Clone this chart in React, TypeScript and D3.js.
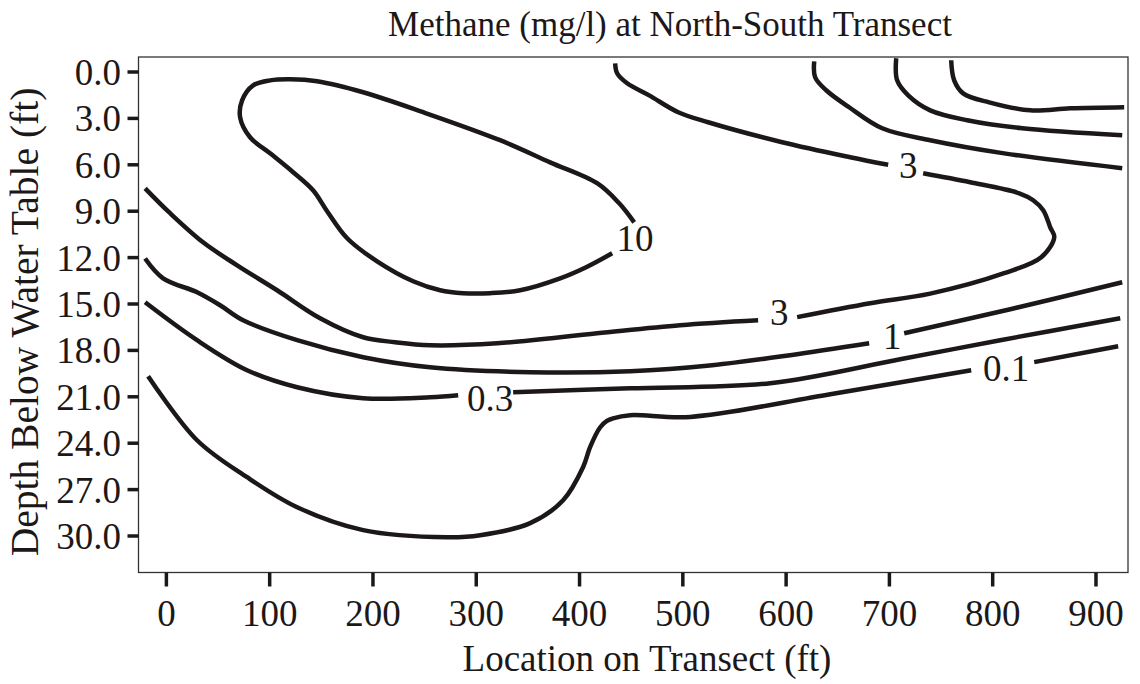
import React from "react";
import * as d3 from "d3";

type Pt = [number, number];

const xTicks = [0, 100, 200, 300, 400, 500, 600, 700, 800, 900];
const yTicks = [0, 3, 6, 9, 12, 15, 18, 21, 24, 27, 30];

const chartTitle = "Methane (mg/l) at North-South Transect";
const xTitle = "Location on Transect (ft)";
const yTitle = "Depth Below Water Table (ft)";

// contour lines: [location ft, depth ft]; each contour is a list of segments (gaps hold labels)
const contour10: Pt[][] = [[
  [431.6, 11.72], [406.4, 12.62], [381.2, 13.34], [342.5, 14.11], [313.4, 14.3], [287.3, 14.3],
  [265.0, 14.11], [238.9, 13.53], [204.0, 12.24], [175.0, 10.75], [155.6, 9.0], [142.0, 7.65],
  [122.7, 6.48], [100.4, 5.26], [81.0, 4.22], [71.4, 2.93], [73.3, 1.83], [84.0, 0.86],
  [100.4, 0.54], [119.8, 0.47], [145.9, 0.6], [190.5, 1.31], [248.6, 2.6], [323.1, 4.41],
  [371.5, 5.84], [417.0, 7.19], [438.4, 8.49], [452.9, 9.72],
]];

const contour3: Pt[][] = [
  [[-20.6, 7.52], [3.6, 9.13], [35.5, 11.01], [68.5, 12.5], [107.2, 14.11], [148.8, 15.92],
   [190.5, 17.15], [221.4, 17.47], [255.3, 17.67], [320.2, 17.54], [417.0, 16.89],
   [497.4, 16.37], [572.9, 16.05]],
  [[610.7, 15.85], [681.4, 14.95], [739.5, 14.33], [811.1, 13.01], [847.0, 11.98], [859.6, 10.68],
   [855.7, 10.04], [848.9, 8.94], [839.2, 8.29], [825.7, 7.84], [778.2, 7.13], [732.7, 6.55]],
  [[698.8, 6.0], [662.0, 5.51], [596.2, 4.54], [524.5, 3.25], [495.5, 2.6], [467.4, 1.51],
   [446.1, 0.73], [436.4, 0.08], [434.5, -0.56]],
];

const contour1: Pt[][] = [
  [[-20.6, 12.06], [-3.2, 13.34], [29.7, 14.24], [52.0, 15.08], [74.3, 16.05], [126.6, 17.34],
   [190.5, 18.44], [255.3, 19.09], [352.2, 19.41], [449.0, 19.35], [528.4, 18.96], [603.9, 18.31],
   [680.4, 17.54]],
  [[714.3, 16.89], [817.0, 15.34], [925.4, 13.59]],
];

const contour03: Pt[][] = [
  [[-20.6, 14.89], [29.7, 17.34], [78.1, 19.28], [126.6, 20.38], [190.5, 21.09], [255.3, 21.03],
   [282.5, 20.9]],
  [[335.7, 20.7], [449.0, 20.45], [584.6, 20.12], [710.4, 18.57], [807.3, 17.34], [923.5, 15.92]],
];

const contour01: Pt[][] = [
  [[-17.7, 19.67], [29.7, 23.81], [78.1, 26.2], [126.6, 28.14], [190.5, 29.62], [271.8, 30.08],
   [303.8, 29.95], [352.2, 29.17], [384.1, 27.69], [403.5, 25.54], [410.3, 24.24], [420.0, 22.97],
   [426.5, 22.56], [432.5, 22.39], [449.0, 22.19], [507.1, 22.3], [642.7, 20.83], [779.2, 19.28]],
  [[840.2, 18.76], [921.5, 17.73]],
];

const contourB: Pt[][] = [[
  [627.2, -0.69], [628.1, 0.34], [638.8, 1.18], [661.0, 2.28], [693.0, 3.64], [739.5, 4.41],
  [811.1, 5.26], [925.4, 6.22],
]];
const contourC: Pt[][] = [[
  [706.6, -0.89], [707.5, 0.54], [718.2, 1.51], [739.5, 2.48], [775.3, 3.12], [828.6, 3.64],
  [925.4, 4.09],
]];
const contourD: Pt[][] = [[
  [759.8, -0.76], [762.7, 0.54], [771.4, 1.38], [796.6, 1.96], [836.3, 2.48], [875.1, 2.35],
  [927.3, 2.28],
]];

const contours = [contour10, contour3, contour1, contour03, contour01, contourB, contourC, contourD];

const labelTexts = ["10", "3", "3", "1", "0.3", "0.1"];
const labelLocs = [453.8, 718.2, 593.3, 702.7, 313.4, 813.1];
const labelDepths = [10.75, 6.03, 15.5, 17.05, 21.06, 19.12];

const FONT = "'Liberation Serif', 'Times New Roman', Times, serif";
const INK = "#1c1818";

export default function App() {
  const W = 1140, H = 684;
  const x = d3.scaleLinear().domain([-27, 931]).range([138.5, 1128]);
  const y = d3.scaleLinear().domain([-0.97, 32.36]).range([57, 572.5]);
  const line = d3
    .line<Pt>()
    .x((d) => x(d[0]))
    .y((d) => y(d[1]))
    .curve(d3.curveCatmullRom.alpha(0.5));
  const [x0, x1] = x.range();
  const [y0, y1] = y.range();
  const fmt = d3.format(".1f");

  return (
    <svg width={W} height={H} style={{ position: "absolute", left: 0, top: 0, background: "#fff" }} fontFamily={FONT}>
      <rect x={0} y={0} width={W} height={H} fill="#fff" />
      <text x={670} y={36} fontSize={35} textAnchor="middle" fill={INK}>{chartTitle}</text>

      <rect x={x0} y={y0} width={x1 - x0} height={y1 - y0} fill="none" stroke="#333" strokeWidth={1.3} />

      {yTicks.map((t) => (
        <g key={"y" + t}>
          <line x1={x0 - 11} x2={x0} y1={y(t)} y2={y(t)} stroke={INK} strokeWidth={3.5} />
          <text x={121} y={y(t)} dy="0.35em" fontSize={37} textAnchor="end" fill={INK}>{fmt(t)}</text>
        </g>
      ))}
      {xTicks.map((t) => (
        <g key={"x" + t}>
          <line x1={x(t)} x2={x(t)} y1={y1} y2={y1 + 14} stroke={INK} strokeWidth={3.5} />
          <text x={x(t)} y={626} fontSize={37} textAnchor="middle" fill={INK}>{t}</text>
        </g>
      ))}

      <text x={647} y={671} fontSize={37} textAnchor="middle" fill={INK}>{xTitle}</text>
      <text transform="translate(38,322) rotate(-90)" fontSize={39.5} textAnchor="middle" fill={INK}>{yTitle}</text>

      {contours.map((c, i) =>
        c.map((seg, j) => (
          <path key={`c${i}-${j}`} d={line(seg) || ""} fill="none" stroke={INK} strokeWidth={4.5} strokeLinejoin="round" />
        ))
      )}

      {labelTexts.map((t, i) => (
        <text key={"l" + i} x={x(labelLocs[i])} y={y(labelDepths[i])} dy="0.35em" fontSize={37} textAnchor="middle" fill={INK}>{t}</text>
      ))}
    </svg>
  );
}
